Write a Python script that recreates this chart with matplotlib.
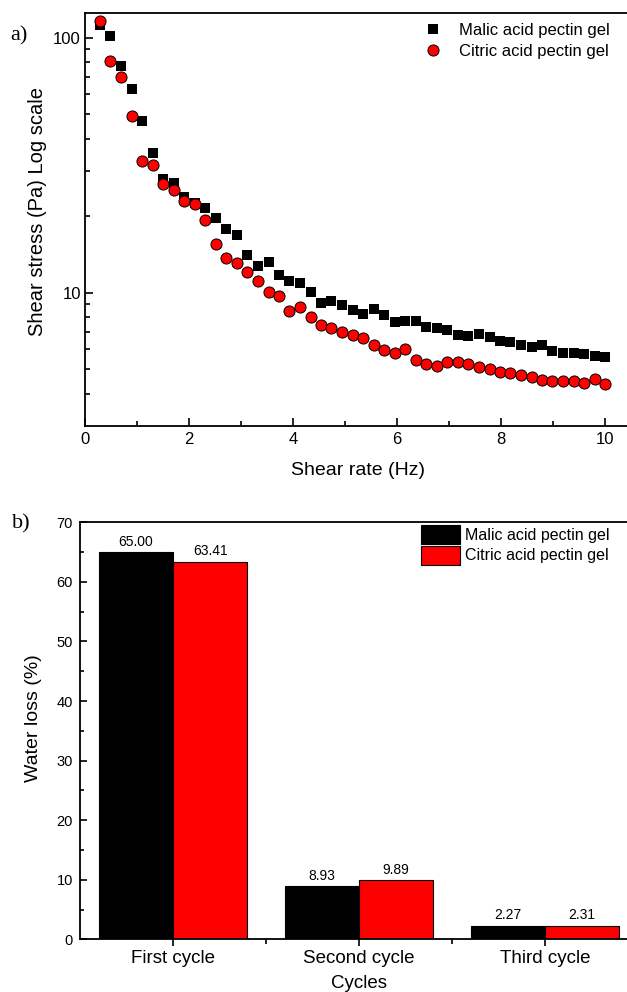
import numpy as np
import matplotlib.pyplot as plt
from matplotlib.ticker import FixedLocator, NullFormatter

plt.rcParams['font.family'] = ['Liberation Sans', 'DejaVu Sans']

# (a) flow curves: shear stress vs shear rate
shear_rate = [0.29, 0.49, 0.69, 0.90, 1.10, 1.30, 1.50, 1.71, 1.91, 2.11,
              2.31, 2.52, 2.72, 2.92, 3.12, 3.32, 3.53, 3.73, 3.93, 4.13,
              4.34, 4.54, 4.74, 4.94, 5.15, 5.35, 5.55, 5.75, 5.96, 6.16,
              6.36, 6.56, 6.77, 6.97, 7.17, 7.37, 7.57, 7.78, 7.98, 8.18,
              8.38, 8.59, 8.79, 8.99, 9.19, 9.40, 9.60, 9.80, 10.00]
malic_stress = [112, 101.5, 77.7, 63.2, 47.3, 35.3, 27.8, 27.0, 23.7, 22.5,
                21.5, 19.7, 17.7, 16.8, 14.1, 12.7, 13.2, 11.7, 11.1, 10.9,
                10.1, 9.14, 9.25, 8.92, 8.52, 8.22, 8.6, 8.15, 7.65, 7.74,
                7.72, 7.36, 7.30, 7.16, 6.85, 6.79, 6.86, 6.68, 6.47, 6.41,
                6.24, 6.12, 6.22, 5.89, 5.80, 5.78, 5.74, 5.63, 5.58]
citric_stress = [116.6, 80.9, 70.0, 49.1, 32.8, 31.6, 26.8, 25.2, 22.8, 22.2,
                 19.3, 15.5, 13.7, 13.1, 12.1, 11.1, 10.1, 9.7, 8.5, 8.8,
                 8.0, 7.45, 7.27, 6.98, 6.83, 6.64, 6.24, 5.95, 5.80, 6.02,
                 5.43, 5.23, 5.15, 5.37, 5.35, 5.26, 5.09, 5.03, 4.89, 4.85,
                 4.75, 4.65, 4.53, 4.49, 4.49, 4.51, 4.43, 4.58, 4.37]

# (b) water loss per cycle
cycles = ['First cycle', 'Second cycle', 'Third cycle']
malic_loss = [65.00, 8.93, 2.27]
citric_loss = [63.41, 9.89, 2.31]

W, H = 627, 992
fig = plt.figure(figsize=(W / 100, H / 100), dpi=100)

def frac(left, top, right, bottom):
    return [left / W, (H - bottom) / H, (right - left) / W, (bottom - top) / H]

# ---- top panel ----
ax1 = fig.add_axes(frac(85, 13, 631, 426))
ax1.plot(shear_rate, malic_stress, 's', color='black', markersize=7.3,
         markeredgewidth=0, label='Malic acid pectin gel', zorder=3)
ax1.plot(shear_rate, citric_stress, 'o', color='red', markersize=8,
         markeredgecolor='black', markeredgewidth=0.7,
         label='Citric acid pectin gel', zorder=4)
ax1.set_yscale('log')
ax1.set_xlim(0, 10.5)
ax1.set_ylim(3, 125)
ax1.set_xticks([0, 2, 4, 6, 8, 10])
ax1.xaxis.set_minor_locator(FixedLocator([1, 3, 5, 7, 9]))
ax1.yaxis.set_major_locator(FixedLocator([10, 100]))
ax1.yaxis.set_minor_locator(FixedLocator([4, 5, 6, 7, 8, 9, 20, 30, 40, 50, 60, 70, 80, 90]))
ax1.yaxis.set_minor_formatter(NullFormatter())
ax1.set_yticklabels(['10', '100'])
ax1.tick_params(which='both', direction='in', width=1.2, labelsize=12)
ax1.tick_params(which='major', length=6)
ax1.tick_params(which='minor', length=3.5)
ax1.tick_params(axis='x', pad=4)
ax1.tick_params(axis='y', pad=3)
for s in ax1.spines.values():
    s.set_linewidth(1.3)
ax1.set_xlabel('Shear rate (Hz)', fontsize=14)
ax1.set_ylabel('Shear stress (Pa) Log scale', fontsize=14.5)
ax1.xaxis.set_label_coords(0.5, -0.088)
ax1.yaxis.set_label_coords(-0.07, 0.52)
ax1.legend(loc='upper left', bbox_to_anchor=(425 / W, (H - 23) / H),
           bbox_transform=fig.transFigure, frameon=False, fontsize=12,
           borderpad=0, borderaxespad=0, handlelength=1.0,
           handletextpad=1.05, labelspacing=0.35)
fig.text(10 / W, (H - 36) / H, 'a)', fontsize=16, family='Liberation Serif',
         va='center', ha='left')

# ---- bottom panel ----
ax2 = fig.add_axes(frac(80, 522.3, 638, 939.3))
x = np.arange(1, len(cycles) + 1)
bw = 0.4
b1 = ax2.bar(x - bw / 2, malic_loss, bw, color='black', edgecolor='black',
             linewidth=0.8, label='Malic acid pectin gel')
b2 = ax2.bar(x + bw / 2, citric_loss, bw, color='red', edgecolor='black',
             linewidth=0.8, label='Citric acid pectin gel')
for bars, vals in ((b1, malic_loss), (b2, citric_loss)):
    for rect, v in zip(bars, vals):
        ax2.annotate(f'{v:.2f}', (rect.get_x() + rect.get_width() / 2, v),
                     xytext=(0, 2.5), textcoords='offset points',
                     ha='center', va='bottom', fontsize=10)
ax2.set_xlim(0.5, 3.5)
ax2.set_ylim(0, 70)
ax2.set_xticks(x)
ax2.set_xticklabels(cycles)
ax2.xaxis.set_minor_locator(FixedLocator([1.5, 2.5]))
ax2.set_yticks(range(0, 71, 10))
ax2.yaxis.set_minor_locator(FixedLocator(range(5, 70, 10)))
ax2.tick_params(axis='x', which='both', direction='out', width=1.2, labelsize=13.5, pad=3)
ax2.tick_params(axis='x', which='major', length=5)
ax2.tick_params(axis='x', which='minor', length=3.5)
ax2.tick_params(axis='y', which='both', direction='in', width=1.2, labelsize=10.5, pad=5)
ax2.tick_params(axis='y', which='major', length=5)
ax2.tick_params(axis='y', which='minor', length=3)
for s in ax2.spines.values():
    s.set_linewidth(1.3)
ax2.set_xlabel('Cycles', fontsize=13.5)
ax2.set_ylabel('Water loss (%)', fontsize=14)
ax2.xaxis.set_label_coords((358.7 - 80) / 558, -0.086)
ax2.yaxis.set_label_coords(-0.068, 0.53)
ax2.legend(loc='upper left', bbox_to_anchor=(420.7 / W, (H - 525) / H),
           bbox_transform=fig.transFigure, frameon=False, fontsize=11.5,
           borderpad=0, borderaxespad=0, handlelength=2.45, handleheight=1.45,
           handletextpad=0.35, labelspacing=0.1)
fig.text(12 / W, (H - 524) / H, 'b)', fontsize=16, family='Liberation Serif',
         va='center', ha='left')

fig.savefig('out.png', dpi=100)
